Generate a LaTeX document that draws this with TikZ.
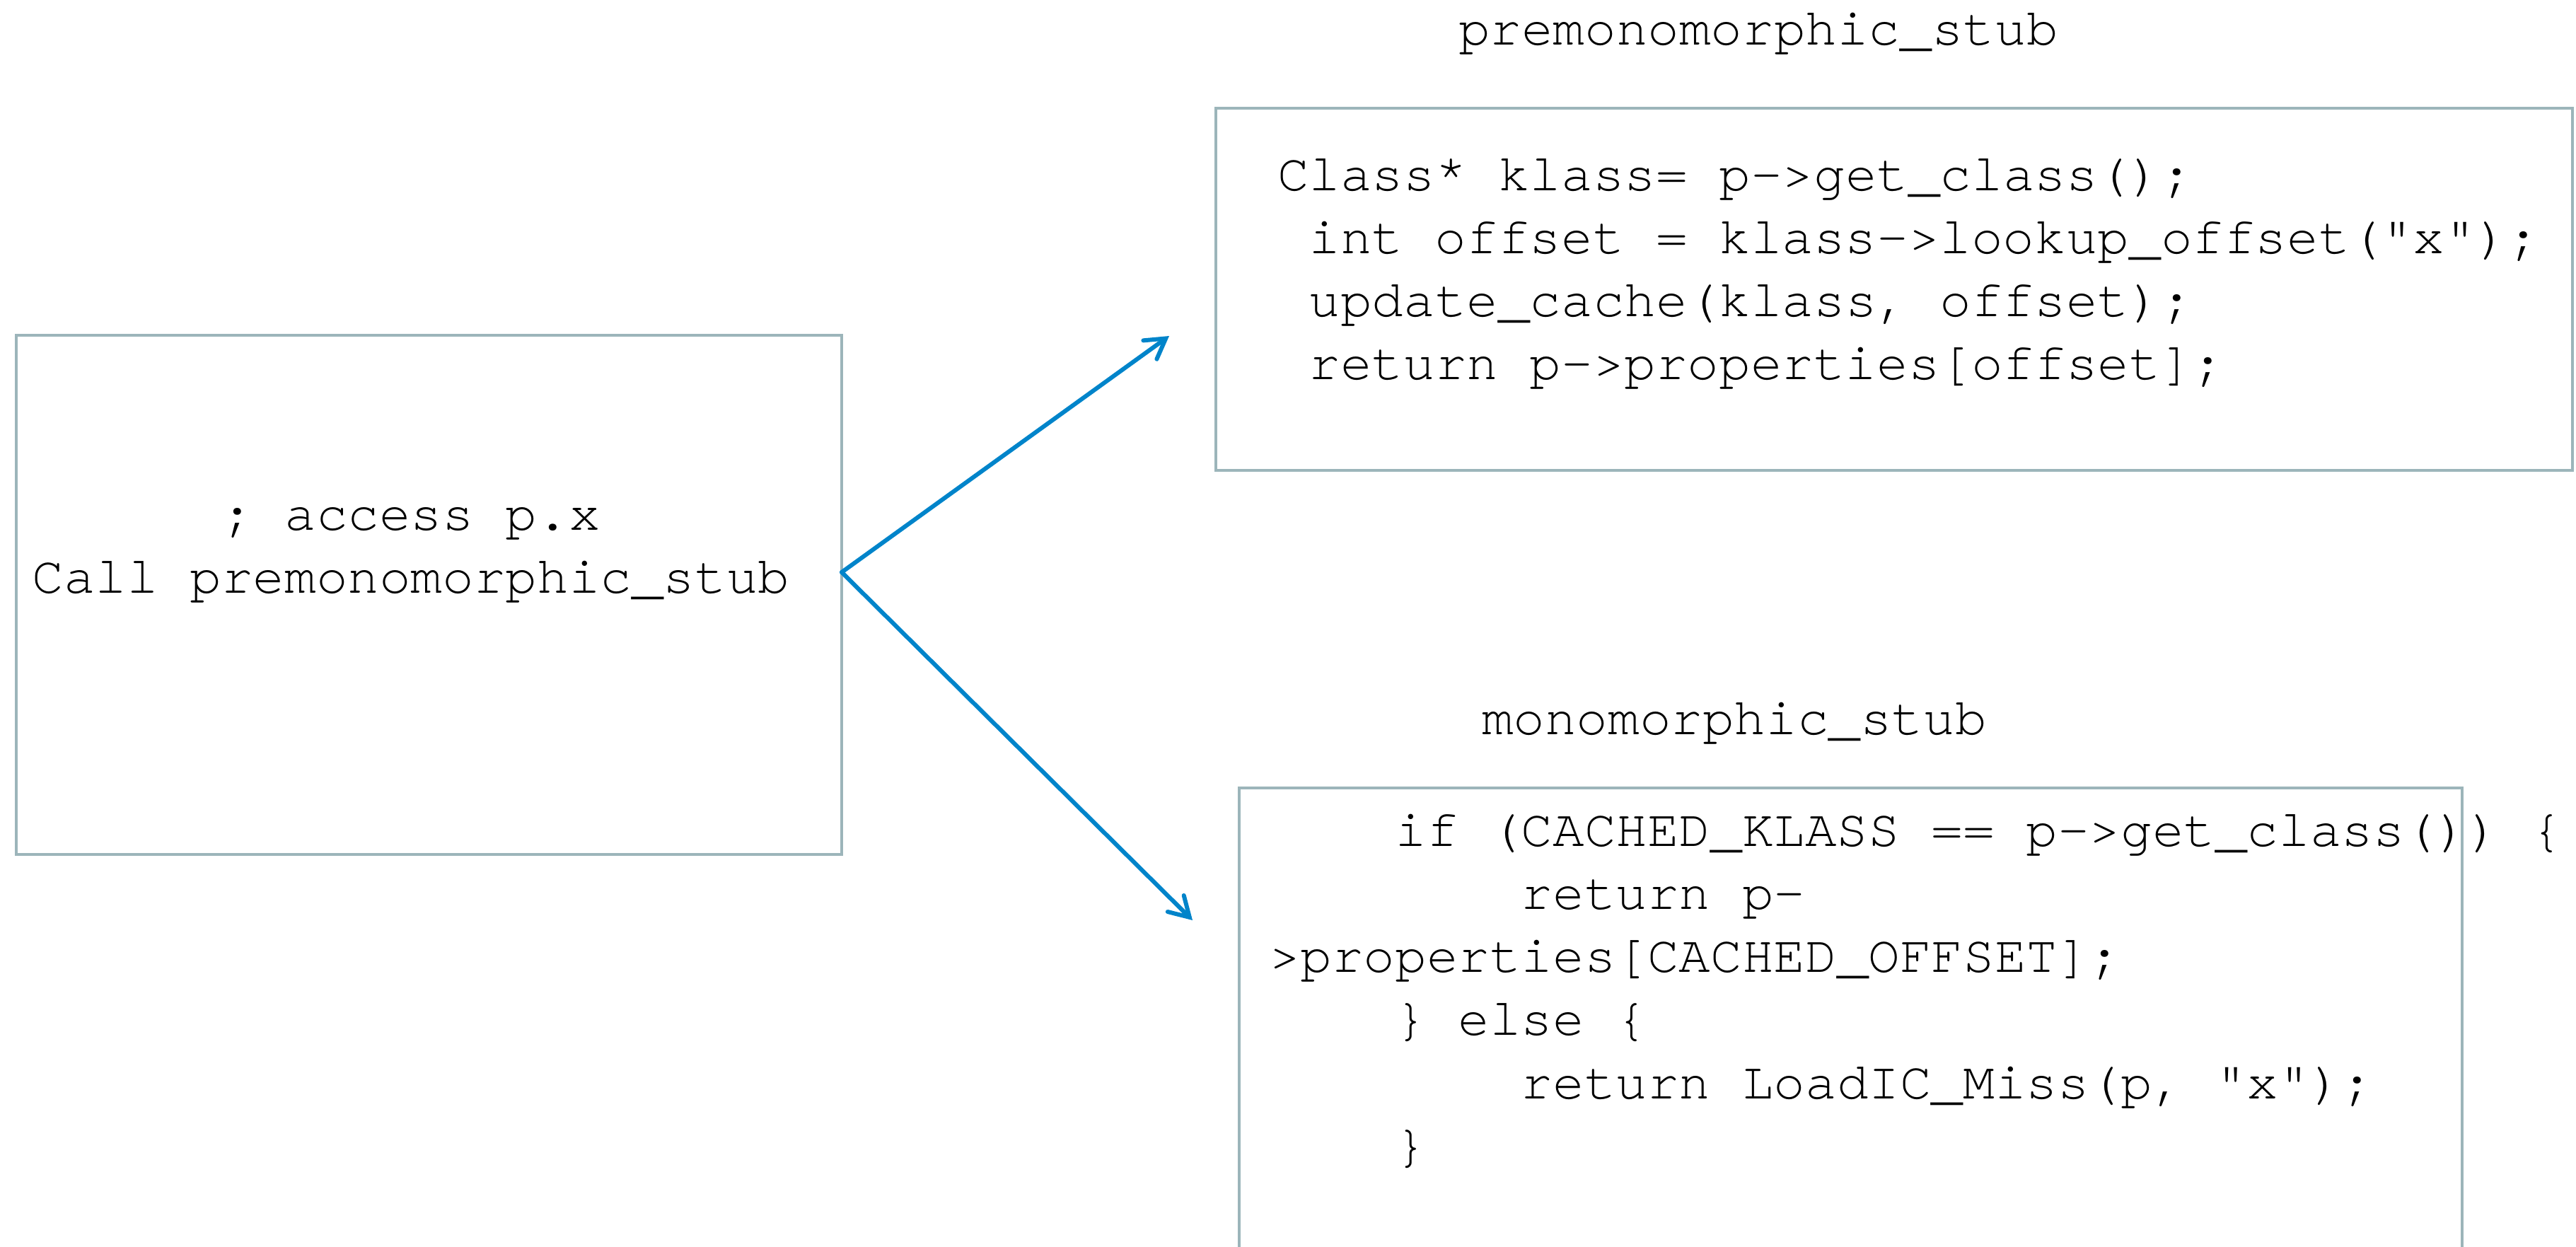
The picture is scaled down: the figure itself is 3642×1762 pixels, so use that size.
\documentclass[tikz,border=0pt]{standalone}
\usepackage{fontspec}
\newfontfamily\codefont[Ligatures={NoCommon,NoRare}]{TeX Gyre Cursor}
\usetikzlibrary{arrows.meta,fit}
\definecolor{boxgray}{RGB}{156,181,186}
\definecolor{arrowblue}{RGB}{0,132,202}
\newcommand\ind[1]{\hspace*{#1em}}
\begin{document}
\begin{tikzpicture}[x=0.2pt,y=-0.2pt,
  box/.style={draw=boxgray,line width=0.9pt,inner sep=0pt},
  code/.style={inner sep=0pt,font=\codefont\fontsize{14.87}{17.85}\selectfont},
  link/.style={draw=arrowblue,line width=1.2pt,line cap=round,
    -{Straight Barb[length=5.5pt,width=6.5pt,line cap=round]}}]
\useasboundingbox (0,0) rectangle (3642,1762);
% boxes
\node[box,fit={(23,474) (1190,1208)}] (caller) {};
\node[box,fit={(1719,153) (3637,665)}] (pre) {};
\node[box,fit={(1752,1114) (3481,1830)}] (mono) {};
% titles
\node[code,anchor=base west] (pretitle) at (2061,63) {premonomorphic\_stub};
\node[code,anchor=base west] (monotitle) at (2094,1038) {monomorphic\_stub};
% texts
\node[code,anchor=base] (callertext) at (581,749)
  {\begin{tabular}[t]{@{}c@{}}; access p.x\\Call premonomorphic\_stub\end{tabular}};
\node[code,anchor=base west] (pretext) at (1805,269)
  {\begin{tabular}[t]{@{}l@{}}Class* klass= p->get\_class();\\
   \ind{0.6}int offset = klass->lookup\_offset("x");\\
   \ind{0.6}update\_cache(klass, offset);\\
   \ind{0.6}return p->properties[offset];\end{tabular}};
\node[code,anchor=base west] (monotext) at (1793,1196)
  {\begin{tabular}[t]{@{}l@{}}\ind{2.4}if (CACHED\_KLASS == p->get\_class()) \{\\
   \ind{4.8}return p-\\
   >properties[CACHED\_OFFSET];\\
   \ind{2.4}\} else \{\\
   \ind{4.8}return LoadIC\_Miss(p, "x");\\
   \ind{2.4}\}\end{tabular}};
% connectors
\coordinate (start) at (1190,809);
\coordinate (uptip) at (1653,475);
\coordinate (downtip) at (1686,1301);
\draw[link] (start) -- (uptip);
\draw[link] (start) -- (downtip);
\end{tikzpicture}
\end{document}
